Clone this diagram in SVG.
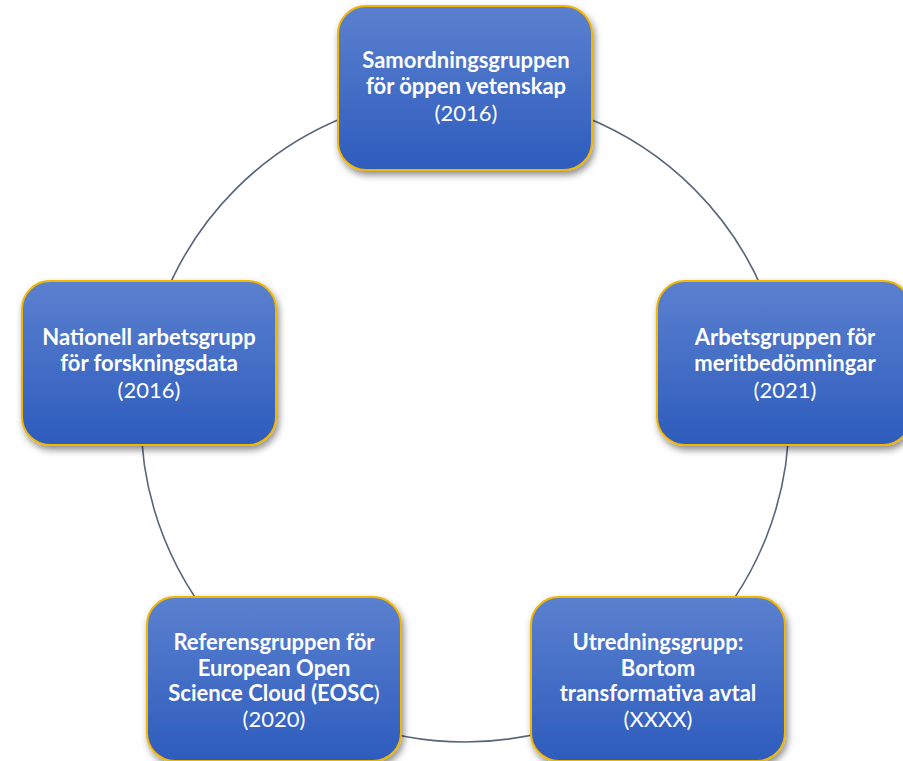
<svg xmlns="http://www.w3.org/2000/svg" width="903" height="761" viewBox="0 0 903 761">
<defs>
<linearGradient id="g" x1="0" y1="0" x2="0" y2="1">
<stop offset="0" stop-color="#5b80cf"/>
<stop offset="1" stop-color="#2d5cbd"/>
</linearGradient>
<filter id="sh" x="-10%" y="-10%" width="125%" height="130%">
<feDropShadow dx="2" dy="4" stdDeviation="3.5" flood-color="#000" flood-opacity="0.45"/>
</filter>
<style>
.box{fill:url(#g);stroke:#f2b500;stroke-width:2;filter:url(#sh)}
.t{font-family:Lato,"Open Sans","Liberation Sans",sans-serif;font-size:22px;fill:#fff;text-anchor:middle}
.b{font-weight:bold}
.r{font-weight:normal}
.ring{fill:none;stroke:#56657c;stroke-width:1.6}
</style>
</defs>
<rect width="903" height="761" fill="#fff"/>
<g id="connectors">
<circle class="ring" cx="465" cy="418" r="324"/>
</g>
<g id="n1">
<rect class="box" x="338" y="6" width="254" height="164" rx="28"/>
<text class="t b" x="466" y="68">Samordningsgruppen</text>
<text class="t b" x="466" y="94">för öppen vetenskap</text>
<text class="t r" x="466" y="121">(2016)</text>
</g>
<g id="n2">
<rect class="box" x="657" y="281" width="254" height="164" rx="28"/>
<text class="t b" x="785" y="345">Arbetsgruppen för</text>
<text class="t b" x="785" y="371">meritbedömningar</text>
<text class="t r" x="785" y="398">(2021)</text>
</g>
<g id="n3">
<rect class="box" x="531" y="597" width="254" height="164" rx="28"/>
<text class="t b" x="658" y="650">Utredningsgrupp:</text>
<text class="t b" x="658" y="676">Bortom</text>
<text class="t b" x="658" y="701">transformativa avtal</text>
<text class="t r" x="658" y="727">(XXXX)</text>
</g>
<g id="n4">
<rect class="box" x="147" y="597" width="254" height="164" rx="28"/>
<text class="t b" x="274" y="650">Referensgruppen för</text>
<text class="t b" x="274" y="676">European Open</text>
<text class="t b" x="274" y="701">Science Cloud (EOSC<tspan class="r">)</tspan></text>
<text class="t r" x="274" y="727">(2020)</text>
</g>
<g id="n5">
<rect class="box" x="22" y="281" width="254" height="164" rx="28"/>
<text class="t b" x="149" y="345">Nationell arbetsgrupp</text>
<text class="t b" x="149" y="371">för forskningsdata</text>
<text class="t r" x="149" y="398">(2016)</text>
</g>
</svg>
